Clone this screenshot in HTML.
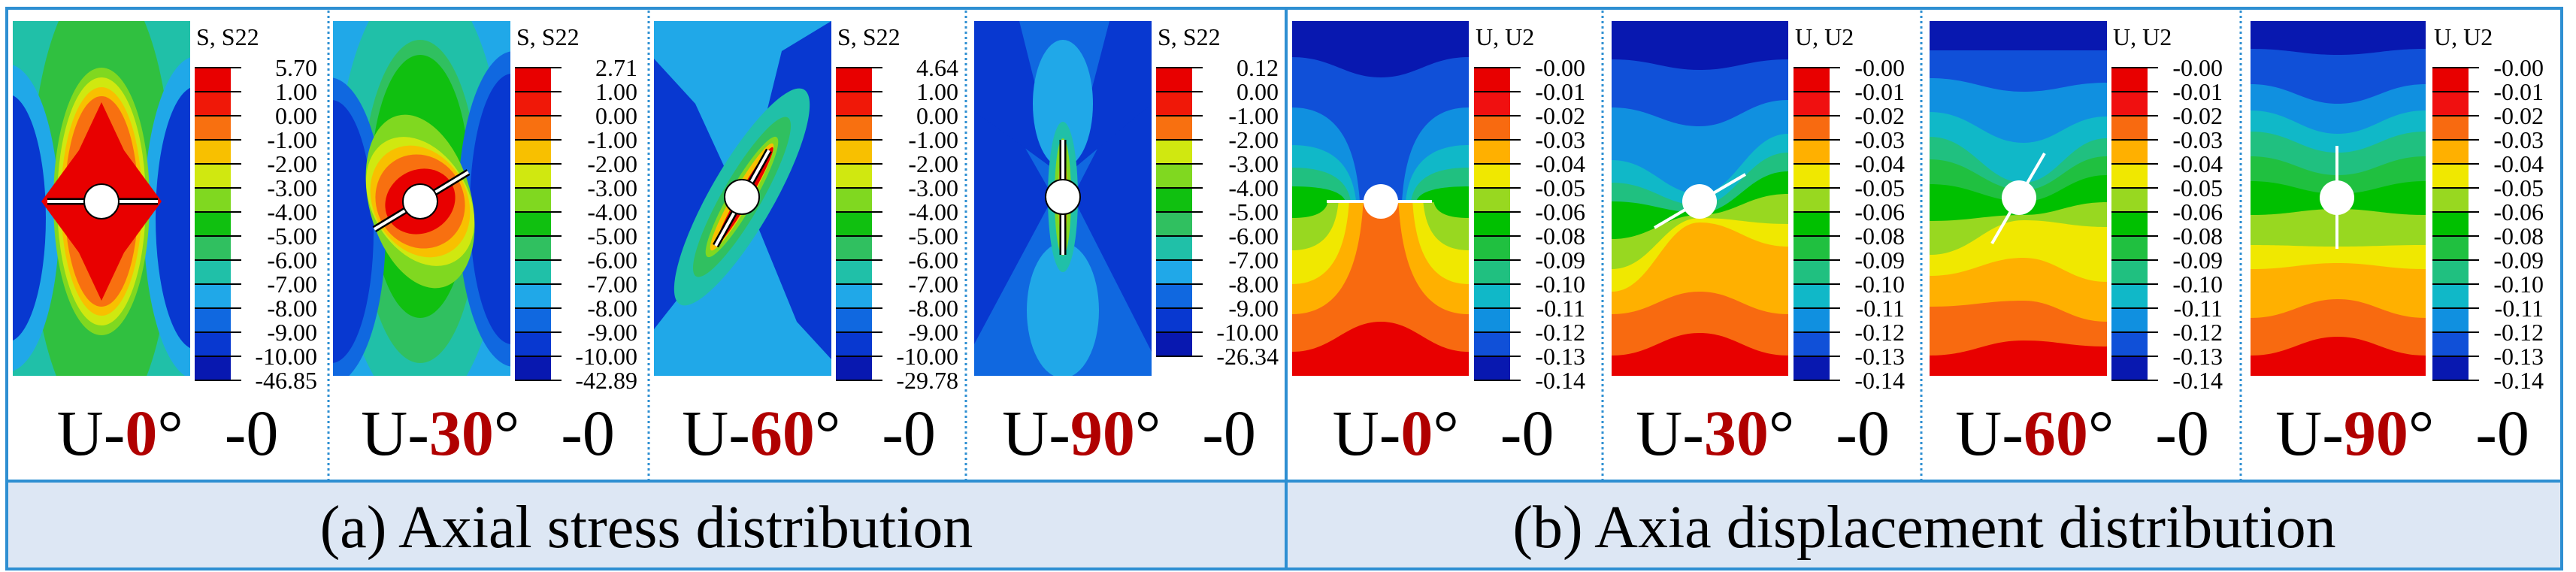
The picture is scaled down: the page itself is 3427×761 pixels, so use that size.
<!DOCTYPE html>
<html><head><meta charset="utf-8">
<style>
html,body{margin:0;padding:0;background:#fff;}
svg{display:block;}
text{font-family:"Liberation Serif","Times New Roman",serif;fill:#000;}
.cb{font-size:32px;}
.hd{font-size:32px;}
.cap{font-size:86px;}
.red{fill:#b00000;font-weight:bold;}
.ttl{font-size:80px;}
</style></head>
<body>
<svg id="s" xmlns="http://www.w3.org/2000/svg" width="3427" height="761" viewBox="0 0 3427 761">
<rect x="0" y="0" width="3427" height="761" fill="#fff"/>
<rect x="9" y="640" width="3399" height="117" fill="#dde7f4"/>
<g id="art"></g>
<rect x="9" y="11" width="3399" height="746" fill="none" stroke="#2e8fd2" stroke-width="4"/>
<line x1="9" y1="640" x2="3408" y2="640" stroke="#2e8fd2" stroke-width="4"/>
<line x1="1711" y1="11" x2="1711" y2="757" stroke="#2e8fd2" stroke-width="4"/>
<g stroke="#2e8fd2" stroke-width="3" stroke-dasharray="3,4">
<line x1="437" y1="14" x2="437" y2="638"/><line x1="863" y1="14" x2="863" y2="638"/><line x1="1285" y1="14" x2="1285" y2="638"/>
<line x1="2132" y1="14" x2="2132" y2="638"/><line x1="2556" y1="14" x2="2556" y2="638"/><line x1="2981" y1="14" x2="2981" y2="638"/>
</g>

<text class="hd" x="261" y="60">S, S22</text>
<text class="hd" x="687" y="60">S, S22</text>
<text class="hd" x="1114" y="60">S, S22</text>
<text class="hd" x="1540" y="60">S, S22</text>
<text class="hd" x="1963" y="60">U, U2</text>
<text class="hd" x="2388" y="60">U, U2</text>
<text class="hd" x="2811" y="60">U, U2</text>
<text class="hd" x="3238" y="60">U, U2</text>

<text class="cb" text-anchor="end"><tspan x="422" y="101">5.70</tspan><tspan x="422" y="133">1.00</tspan><tspan x="422" y="165">0.00</tspan><tspan x="422" y="197">-1.00</tspan><tspan x="422" y="229">-2.00</tspan><tspan x="422" y="261">-3.00</tspan><tspan x="422" y="293">-4.00</tspan><tspan x="422" y="325">-5.00</tspan><tspan x="422" y="357">-6.00</tspan><tspan x="422" y="389">-7.00</tspan><tspan x="422" y="421">-8.00</tspan><tspan x="422" y="453">-9.00</tspan><tspan x="422" y="485">-10.00</tspan><tspan x="422" y="517">-46.85</tspan></text>
<text class="cb" text-anchor="end"><tspan x="848" y="101">2.71</tspan><tspan x="848" y="133">1.00</tspan><tspan x="848" y="165">0.00</tspan><tspan x="848" y="197">-1.00</tspan><tspan x="848" y="229">-2.00</tspan><tspan x="848" y="261">-3.00</tspan><tspan x="848" y="293">-4.00</tspan><tspan x="848" y="325">-5.00</tspan><tspan x="848" y="357">-6.00</tspan><tspan x="848" y="389">-7.00</tspan><tspan x="848" y="421">-8.00</tspan><tspan x="848" y="453">-9.00</tspan><tspan x="848" y="485">-10.00</tspan><tspan x="848" y="517">-42.89</tspan></text>
<text class="cb" text-anchor="end"><tspan x="1275" y="101">4.64</tspan><tspan x="1275" y="133">1.00</tspan><tspan x="1275" y="165">0.00</tspan><tspan x="1275" y="197">-1.00</tspan><tspan x="1275" y="229">-2.00</tspan><tspan x="1275" y="261">-3.00</tspan><tspan x="1275" y="293">-4.00</tspan><tspan x="1275" y="325">-5.00</tspan><tspan x="1275" y="357">-6.00</tspan><tspan x="1275" y="389">-7.00</tspan><tspan x="1275" y="421">-8.00</tspan><tspan x="1275" y="453">-9.00</tspan><tspan x="1275" y="485">-10.00</tspan><tspan x="1275" y="517">-29.78</tspan></text>
<text class="cb" text-anchor="end"><tspan x="1701" y="101">0.12</tspan><tspan x="1701" y="133">0.00</tspan><tspan x="1701" y="165">-1.00</tspan><tspan x="1701" y="197">-2.00</tspan><tspan x="1701" y="229">-3.00</tspan><tspan x="1701" y="261">-4.00</tspan><tspan x="1701" y="293">-5.00</tspan><tspan x="1701" y="325">-6.00</tspan><tspan x="1701" y="357">-7.00</tspan><tspan x="1701" y="389">-8.00</tspan><tspan x="1701" y="421">-9.00</tspan><tspan x="1701" y="453">-10.00</tspan><tspan x="1701" y="485">-26.34</tspan></text>

<text class="cb" text-anchor="end"><tspan x="2109" y="101">-0.00</tspan><tspan x="2109" y="133">-0.01</tspan><tspan x="2109" y="165">-0.02</tspan><tspan x="2109" y="197">-0.03</tspan><tspan x="2109" y="229">-0.04</tspan><tspan x="2109" y="261">-0.05</tspan><tspan x="2109" y="293">-0.06</tspan><tspan x="2109" y="325">-0.08</tspan><tspan x="2109" y="357">-0.09</tspan><tspan x="2109" y="389">-0.10</tspan><tspan x="2109" y="421">-0.11</tspan><tspan x="2109" y="453">-0.12</tspan><tspan x="2109" y="485">-0.13</tspan><tspan x="2109" y="517">-0.14</tspan></text>
<text class="cb" text-anchor="end"><tspan x="2534" y="101">-0.00</tspan><tspan x="2534" y="133">-0.01</tspan><tspan x="2534" y="165">-0.02</tspan><tspan x="2534" y="197">-0.03</tspan><tspan x="2534" y="229">-0.04</tspan><tspan x="2534" y="261">-0.05</tspan><tspan x="2534" y="293">-0.06</tspan><tspan x="2534" y="325">-0.08</tspan><tspan x="2534" y="357">-0.09</tspan><tspan x="2534" y="389">-0.10</tspan><tspan x="2534" y="421">-0.11</tspan><tspan x="2534" y="453">-0.12</tspan><tspan x="2534" y="485">-0.13</tspan><tspan x="2534" y="517">-0.14</tspan></text>
<text class="cb" text-anchor="end"><tspan x="2957" y="101">-0.00</tspan><tspan x="2957" y="133">-0.01</tspan><tspan x="2957" y="165">-0.02</tspan><tspan x="2957" y="197">-0.03</tspan><tspan x="2957" y="229">-0.04</tspan><tspan x="2957" y="261">-0.05</tspan><tspan x="2957" y="293">-0.06</tspan><tspan x="2957" y="325">-0.08</tspan><tspan x="2957" y="357">-0.09</tspan><tspan x="2957" y="389">-0.10</tspan><tspan x="2957" y="421">-0.11</tspan><tspan x="2957" y="453">-0.12</tspan><tspan x="2957" y="485">-0.13</tspan><tspan x="2957" y="517">-0.14</tspan></text>
<text class="cb" text-anchor="end"><tspan x="3384" y="101">-0.00</tspan><tspan x="3384" y="133">-0.01</tspan><tspan x="3384" y="165">-0.02</tspan><tspan x="3384" y="197">-0.03</tspan><tspan x="3384" y="229">-0.04</tspan><tspan x="3384" y="261">-0.05</tspan><tspan x="3384" y="293">-0.06</tspan><tspan x="3384" y="325">-0.08</tspan><tspan x="3384" y="357">-0.09</tspan><tspan x="3384" y="389">-0.10</tspan><tspan x="3384" y="421">-0.11</tspan><tspan x="3384" y="453">-0.12</tspan><tspan x="3384" y="485">-0.13</tspan><tspan x="3384" y="517">-0.14</tspan></text>

<text class="cap" x="223" y="605" text-anchor="middle">U-<tspan class="red">0</tspan>°<tspan dx="55">-0</tspan></text>
<text class="cap" x="649" y="605" text-anchor="middle">U-<tspan class="red">30</tspan>°<tspan dx="55">-0</tspan></text>
<text class="cap" x="1076" y="605" text-anchor="middle">U-<tspan class="red">60</tspan>°<tspan dx="55">-0</tspan></text>
<text class="cap" x="1502" y="605" text-anchor="middle">U-<tspan class="red">90</tspan>°<tspan dx="55">-0</tspan></text>
<text class="cap" x="1920" y="605" text-anchor="middle">U-<tspan class="red">0</tspan>°<tspan dx="55">-0</tspan></text>
<text class="cap" x="2345" y="605" text-anchor="middle">U-<tspan class="red">30</tspan>°<tspan dx="55">-0</tspan></text>
<text class="cap" x="2770" y="605" text-anchor="middle">U-<tspan class="red">60</tspan>°<tspan dx="55">-0</tspan></text>
<text class="cap" x="3196" y="605" text-anchor="middle">U-<tspan class="red">90</tspan>°<tspan dx="55">-0</tspan></text>

<text class="ttl" x="860" y="728" text-anchor="middle">(a) Axial stress distribution</text>
<text class="ttl" x="2560" y="728" text-anchor="middle">(b) Axia displacement distribution</text>
</svg>
<script>
(function(){
var NS='http://www.w3.org/2000/svg';
var art=document.getElementById('art');
function el(t,a,p){var e=document.createElementNS(NS,t);for(var k in a)e.setAttribute(k,a[k]);(p||art).appendChild(e);return e;}
var S=['#e80000','#f01808','#f87010','#f8c000','#d0e810','#80d820','#10c010','#30c060','#20c0a8','#20a8e8','#1068e0','#0838d0','#0818b0'];
var U=['#e80000','#f01010','#f86a10','#ffb000','#f0e800','#98d820','#00c000','#20c040','#20c080','#10b8c8','#1090e0','#1050d8','#0818b0'];
var H=472,TOP=28;
function panel(L,W,idx){
  var cp=el('clipPath',{id:'c'+idx});el('rect',{x:0,y:0,width:W,height:H},cp);
  return el('g',{transform:'translate('+L+','+TOP+')','clip-path':'url(#c'+idx+')'});
}
function cbar(x,cols){
  var y=90;
  for(var i=0;i<cols.length;i++){el('rect',{x:x,y:y+i*32,width:48,height:32,fill:cols[i]});}
  for(var i=0;i<=cols.length;i++){var yy=y+i*32;el('line',{x1:x,y1:yy,x2:x+62,y2:yy,stroke:'#000','stroke-width':2});}
}
function E(g,cx,cy,rx,ry,f,rot){var a={cx:cx,cy:cy,rx:rx,ry:ry,fill:f};if(rot)a.transform='rotate('+rot+' '+cx+' '+cy+')';el('ellipse',a,g);}
function P(g,pts,f){el('polygon',{points:pts,fill:f},g);}
function R(g,W,f){el('rect',{x:0,y:0,width:W,height:H,fill:f},g);}
function layers(g,W,xm,list){
  R(g,W,'#0818b0');
  list.forEach(function(l){
    var yl=l[1],ym=l[2],yr=l[3],d;
    if(l.length>4){
      var h=l[4]*W, a=xm-h, b=xm+h, mL=(yl+ym)/2, mR=(yr+ym)/2;
      d='M0,'+yl+' C'+(a*0.75)+','+yl+' '+(a*0.95)+','+mL+' '+a+','+ym+' L'+b+','+ym+' C'+(b+(W-b)*0.05)+','+mR+' '+(b+(W-b)*0.25)+','+yr+' '+W+','+yr+' L'+W+','+H+' L0,'+H+' Z';
    } else {
      d='M0,'+yl+' C'+(xm*0.45)+','+yl+' '+(xm*0.6)+','+ym+' '+xm+','+ym+' C'+(xm+(W-xm)*0.4)+','+ym+' '+(xm+(W-xm)*0.55)+','+yr+' '+W+','+yr+' L'+W+','+H+' L0,'+H+' Z';
    }
    el('path',{d:d,fill:l[0]},g);
  });
}
function hole(cx,cy,x1,y1,x2,y2,outline){
  if(outline){el('line',{x1:x1,y1:y1,x2:x2,y2:y2,stroke:'#000','stroke-width':9});}
  el('line',{x1:x1,y1:y1,x2:x2,y2:y2,stroke:'#fff','stroke-width':4});
  el('circle',{cx:cx,cy:cy,r:23,fill:'#fff',stroke:outline?'#000':'none','stroke-width':2});
}
// Panel 1
var g=panel(17,236,1);
R(g,236,'#20c0a8');
E(g,118,240,95,300,'#30c040');
E(g,-8,262,70,205,'#20a8e8');E(g,-8,262,52,165,'#0838d0');
E(g,244,262,70,215,'#20a8e8');E(g,244,262,54,175,'#0838d0');
E(g,118,240,64,178,'#80d820');E(g,118,240,59,165,'#d0e810');E(g,118,240,54,152,'#f8c000');E(g,118,240,49,140,'#f87010');
P(g,'118,108 148,172 198,240 148,308 118,372 88,308 38,240 88,172','#e80000');
cbar(259,S);
hole(135,268,63,268,210,268,true);
// Panel 2
g=panel(443,236,2);
R(g,236,'#20a8e8');
E(g,116,230,112,290,'#20c0a8');
E(g,116,240,78,215,'#30c060');E(g,116,220,66,175,'#10c010');
E(g,-5,280,75,205,'#1068e0');E(g,-2,280,56,175,'#0838d0');
E(g,241,250,75,210,'#1068e0');E(g,238,250,56,180,'#0838d0');
E(g,116,240,68,118,'#80d820',-15);E(g,116,240,64,92,'#d0e810',-30);E(g,116,240,62,78,'#f8c000',-30);E(g,116,240,58,64,'#f87010',-30);E(g,116,240,48,42,'#e80000',-30);
cbar(685,S);
hole(559,268,498,305,623,229,true);
// Panel 3
g=panel(870,236,3);
R(g,236,'#20a8e8');
P(g,'0,50 55,110 112,234 55,340 0,410','#0838d0');
P(g,'236,0 170,40 122,234 190,400 236,450','#0838d0');
E(g,117,234,42,165,'#20c0a8',30);E(g,117,234,26,122,'#30c060',30);E(g,117,234,17,92,'#80d820',30);E(g,117,234,12,82,'#f8c000',30);E(g,121,232,8,74,'#e80000',30);
cbar(1112,S);
hole(987,262,952,327,1023,200,true);
// Panel 4
g=panel(1296,236,4);
R(g,236,'#1068e0');
P(g,'0,50 105,234 0,430','#0838d0');P(g,'236,30 131,234 236,440','#0838d0');
P(g,'0,0 60,0 110,200 0,120','#0838d0');P(g,'236,0 180,0 128,200 236,110','#0838d0');
E(g,118,110,40,85,'#20a8e8');E(g,118,385,48,90,'#20a8e8');
E(g,118,234,20,100,'#20c0a8');E(g,118,234,11,78,'#80d820');E(g,118,234,6,60,'#f8c000');
cbar(1538,S.slice(0,3).concat(S.slice(4)));
hole(1414,262,1414,186,1414,339,true);
// Panel 5
g=panel(1719,235,5);
layers(g,235,118,[['#1050d8',48,75,48],['#1090e0',115,238,115,0.12],['#10b8c8',165,240,165,0.14],['#20c080',195,240,195,0.17],['#00c000',220,240,220,0.2],['#98d820',262,241,262,0.3],['#f0e800',305,241,305,0.24],['#ffb000',350,242,350,0.18],['#f86a10',390,243,390,0.1],['#e80000',440,400,440]]);
cbar(1961,U);
hole(1837,268,1765,268,1905,268,false);
// Panel 6
g=panel(2144,235,6);
layers(g,235,117,[['#1050d8',51,65,51],['#1090e0',115,140,105],['#10b8c8',185,230,150],['#20c080',215,245,175],['#00c000',240,255,200],['#98d820',290,258,230],['#f0e800',330,262,270],['#ffb000',360,268,300],['#f86a10',390,360,390],['#e80000',445,415,445]]);
cbar(2386,U);
hole(2261,268,2201,303,2322,232,false);
// Panel 7
g=panel(2567,236,7);
layers(g,236,125,[['#1050d8',39,39,39],['#1090e0',76,94,82],['#10b8c8',121,162,127],['#20c080',154,215,156],['#20c040',184,225,180],['#00c000',217,240,205],['#98d820',266,258,241],['#f0e800',311,265,274],['#ffb000',339,315,347],['#f86a10',380,372,400],['#e80000',445,425,433]]);
cbar(2809,U);
hole(2686,263,2650,324,2720,204,false);
// Panel 8
g=panel(2994,233,8);
layers(g,233,116,[['#1050d8',37,45,37],['#1090e0',84,110,84],['#10b8c8',119,150,119],['#20c080',147,175,147],['#20c040',180,205,180],['#00c000',213,230,213],['#98d820',258,250,258],['#f0e800',298,300,298],['#ffb000',330,322,330],['#f86a10',395,370,395],['#e80000',445,420,445]]);
cbar(3236,U);
hole(3109,263,3109,194,3109,331,false);
})();
</script>
</body></html>
